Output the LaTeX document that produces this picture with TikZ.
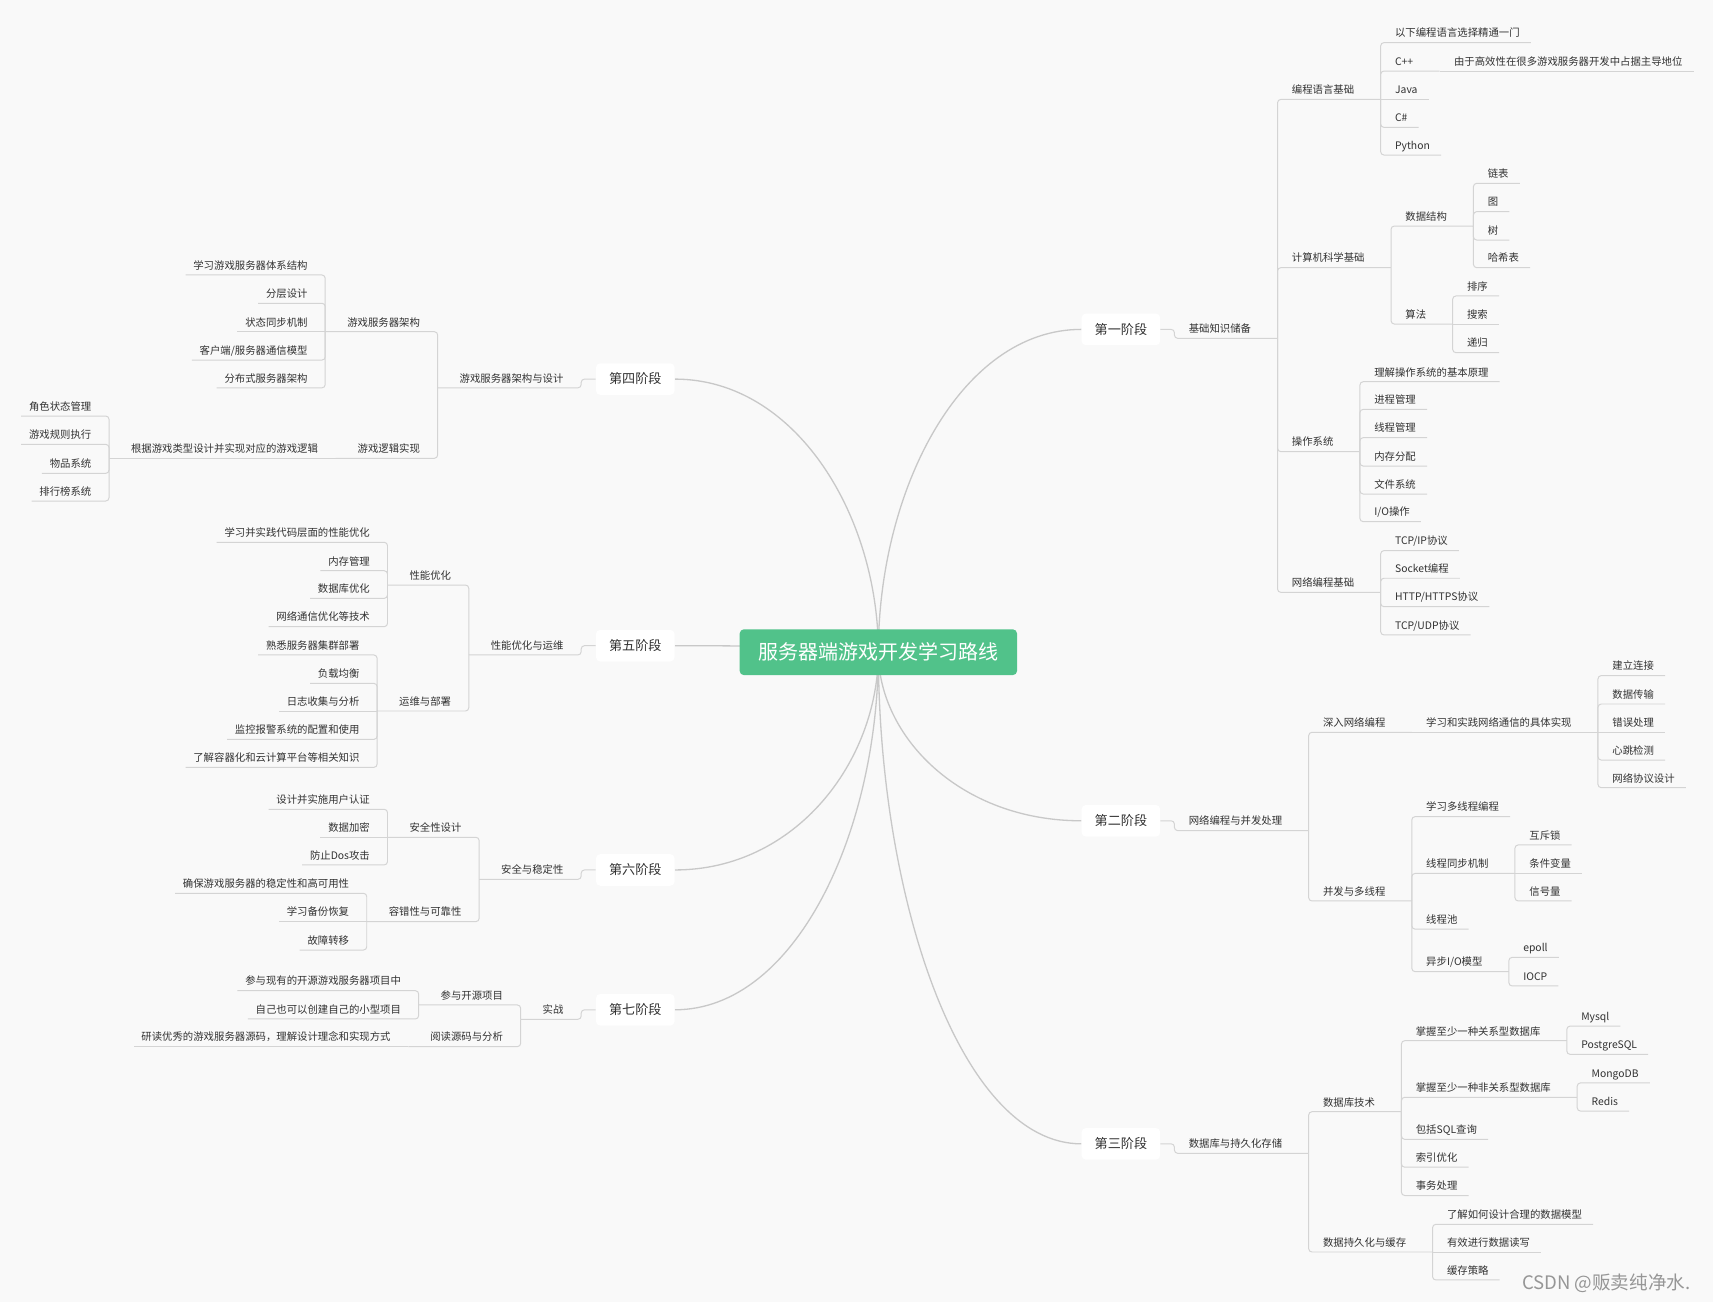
\documentclass[tikz,border=0pt]{standalone}
\usepackage{fontspec}
\newfontfamily\cjk{Noto Sans CJK SC}
\usetikzlibrary{backgrounds}
\definecolor{ink}{RGB}{50,50,50}
\definecolor{paper}{RGB}{249,249,249}
\definecolor{rootgreen}{RGB}{81,194,138}
\definecolor{limbgray}{RGB}{200,200,200}
\definecolor{twiggray}{RGB}{212,212,212}
\definecolor{stampgray}{RGB}{150,150,150}

\begin{document}
\begin{tikzpicture}[
  x=1pt, y=-1pt,
  root/.style={font=\cjk\fontsize{18.3}{20}\selectfont, text=white, fill=rootgreen, rounded corners=4pt, minimum width=254pt, minimum height=42pt, inner sep=0pt, text height=14pt, text depth=0pt},
  stage/.style={font=\cjk\fontsize{12}{14}\selectfont, text=ink, fill=white, rounded corners=4pt, minimum width=72pt, minimum height=29pt, inner sep=0pt, text height=9pt, text depth=0.2pt},
  topic/.style={font=\cjk\fontsize{9.5}{11}\selectfont, text=ink, inner sep=0pt, text height=8pt, text depth=5pt},
  rnode/.style={topic, anchor=south west, execute at begin node={\kern13pt}, execute at end node={\kern24pt}},
  rleaf/.style={topic, anchor=south west, execute at begin node={\kern13pt}, execute at end node={\kern10pt}},
  lnode/.style={topic, anchor=south east, execute at begin node={\kern20pt}, execute at end node={\kern16pt}},
  lleaf/.style={topic, anchor=south east, execute at begin node={\kern7pt}, execute at end node={\kern16pt}},
  stamp/.style={font=\cjk\fontsize{17}{19}\selectfont, text=stampgray, anchor=west, inner sep=0pt},
  limb/.style={draw=limbgray, line width=1.2pt},
  twig/.style={draw=twiggray, line width=0.9pt, rounded corners=3pt}
]
\useasboundingbox (0,0) rectangle (1568,1192);

\node[root] (root) at (804,597) {服务器端游戏开发学习路线};

% stage 1
\node[stage] (st1) at (1026,301.5) {第一阶段};
\node[rnode] (base) at (1075,309.7) {基础知识储备};
\node[rnode] (lang) at (base.south east |- 0,91) {编程语言基础};
\node[rleaf] (pick) at (lang.south east |- 0,39) {以下编程语言选择精通一门};
\node[rnode] (cpp) at (lang.south east |- 0,65) {C++};
\node[rleaf] (cppnote) at (cpp.south east) {由于高效性在很多游戏服务器开发中占据主导地位};
\node[rleaf] (java) at (lang.south east |- 0,91) {Java};
\node[rleaf] (csharp) at (lang.south east |- 0,116.6) {C\#};
\node[rleaf] (python) at (lang.south east |- 0,141.9) {Python};
\node[rnode] (csbase) at (base.south east |- 0,245) {计算机科学基础};
\node[rnode] (ds) at (csbase.south east |- 0,206.9) {数据结构};
\node[rleaf] (list) at (ds.south east |- 0,167.8) {链表};
\node[rleaf] (graph) at (ds.south east |- 0,193.7) {图};
\node[rleaf] (tree) at (ds.south east |- 0,219.7) {树};
\node[rleaf] (hash) at (ds.south east |- 0,245) {哈希表};
\node[rnode] (algo) at (csbase.south east |- 0,296.6) {算法};
\node[rleaf] (sort) at (algo.south east |- 0,270.9) {排序};
\node[rleaf] (search) at (algo.south east) {搜索};
\node[rleaf] (recur) at (algo.south east |- 0,322.8) {递归};
\node[rnode] (os) at (base.south east |- 0,413.4) {操作系统};
\node[rleaf] (osbase) at (os.south east |- 0,349.4) {理解操作系统的基本原理};
\node[rleaf] (proc) at (os.south east |- 0,374.7) {进程管理};
\node[rleaf] (thread) at (os.south east |- 0,400.6) {线程管理};
\node[rleaf] (mem) at (os.south east |- 0,426.6) {内存分配};
\node[rleaf] (fsys) at (os.south east |- 0,452.2) {文件系统};
\node[rleaf] (io) at (os.south east |- 0,477.5) {I/O操作};
\node[rnode] (net) at (base.south east |- 0,542.2) {网络编程基础};
\node[rleaf] (tcpip) at (net.south east |- 0,504) {TCP/IP协议};
\node[rleaf] (socket) at (net.south east |- 0,529.3) {Socket编程};
\node[rleaf] (http) at (net.south east |- 0,555.3) {HTTP/HTTPS协议};
\node[rleaf] (tcpudp) at (net.south east |- 0,581.2) {TCP/UDP协议};

\draw[twig] (st1.east) -- (base.south west |- st1.east) -- (base.south west) -- (base.south east);
\foreach \c in {lang,csbase,os,net} \draw[twig] (base.south east) -- (\c.south west) -- (\c.south east);
\foreach \c in {pick,cpp,csharp,python} \draw[twig] (lang.south east) -- (\c.south west) -- (\c.south east);
\foreach \c in {ds,algo} \draw[twig] (csbase.south east) -- (\c.south west) -- (\c.south east);
\foreach \c in {list,graph,tree,hash} \draw[twig] (ds.south east) -- (\c.south west) -- (\c.south east);
\foreach \c in {sort,recur} \draw[twig] (algo.south east) -- (\c.south west) -- (\c.south east);
\foreach \c in {osbase,proc,thread,mem,fsys,io} \draw[twig] (os.south east) -- (\c.south west) -- (\c.south east);
\foreach \c in {tcpip,socket,http,tcpudp} \draw[twig] (net.south east) -- (\c.south west) -- (\c.south east);
\foreach \c in {java,cppnote,search} \draw[twig] (\c.south west) -- (\c.south east);

% stage 2
\node[stage] (st2) at (1026,751.3) {第二阶段};
\node[rnode] (netcon) at (1075,760.3) {网络编程与并发处理};
\node[rnode] (deepnet) at (netcon.south east |- 0,670.3) {深入网络编程};
\node[rnode] (netimpl) at (deepnet.south east) {学习和实践网络通信的具体实现};
\node[rleaf] (conn) at (netimpl.south east |- 0,618.4) {建立连接};
\node[rleaf] (trans) at (netimpl.south east |- 0,644.4) {数据传输};
\node[rleaf] (err) at (netimpl.south east) {错误处理};
\node[rleaf] (beat) at (netimpl.south east |- 0,695.7) {心跳检测};
\node[rleaf] (proto) at (netimpl.south east |- 0,721) {网络协议设计};
\node[rnode] (conc) at (netcon.south east |- 0,824.7) {并发与多线程};
\node[rleaf] (mtlearn) at (conc.south east |- 0,747.5) {学习多线程编程};
\node[rnode] (sync) at (conc.south east |- 0,799.5) {线程同步机制};
\node[rleaf] (mutex) at (sync.south east |- 0,773.4) {互斥锁};
\node[rleaf] (condvar) at (sync.south east) {条件变量};
\node[rleaf] (sem) at (sync.south east |- 0,824.7) {信号量};
\node[rleaf] (pool) at (conc.south east |- 0,850.5) {线程池};
\node[rnode] (aio) at (conc.south east |- 0,889.4) {异步I/O模型};
\node[rleaf] (epoll) at (aio.south east |- 0,876.3) {epoll};
\node[rleaf] (iocp) at (aio.south east |- 0,902.5) {IOCP};

\draw[twig] (st2.east) -- (netcon.south west |- st2.east) -- (netcon.south west) -- (netcon.south east);
\foreach \c in {deepnet,conc} \draw[twig] (netcon.south east) -- (\c.south west) -- (\c.south east);
\foreach \c in {conn,trans,beat,proto} \draw[twig] (netimpl.south east) -- (\c.south west) -- (\c.south east);
\foreach \c in {mtlearn,sync,pool,aio} \draw[twig] (conc.south east) -- (\c.south west) -- (\c.south east);
\foreach \c in {mutex,sem} \draw[twig] (sync.south east) -- (\c.south west) -- (\c.south east);
\foreach \c in {epoll,iocp} \draw[twig] (aio.south east) -- (\c.south west) -- (\c.south east);
\foreach \c in {netimpl,err,condvar} \draw[twig] (\c.south west) -- (\c.south east);

% stage 3
\node[stage] (st3) at (1026,1047) {第三阶段};
\node[rnode] (dbstore) at (1075,1055.7) {数据库与持久化存储};
\node[rnode] (dbtech) at (dbstore.south east |- 0,1017.6) {数据库技术};
\node[rnode] (rdb) at (dbtech.south east |- 0,952.6) {掌握至少一种关系型数据库};
\node[rleaf] (mysql) at (rdb.south east |- 0,939.2) {Mysql};
\node[rleaf] (pg) at (rdb.south east |- 0,965.1) {PostgreSQL};
\node[rnode] (nosql) at (dbtech.south east |- 0,1004.4) {掌握至少一种非关系型数据库};
\node[rleaf] (mongo) at (nosql.south east |- 0,991.2) {MongoDB};
\node[rleaf] (redis) at (nosql.south east |- 0,1017) {Redis};
\node[rleaf] (sql) at (dbtech.south east |- 0,1042.9) {包括SQL查询};
\node[rleaf] (idx) at (dbtech.south east |- 0,1068.4) {索引优化};
\node[rleaf] (txn) at (dbtech.south east |- 0,1094.3) {事务处理};
\node[rnode] (persist) at (dbstore.south east |- 0,1146) {数据持久化与缓存};
\node[rleaf] (model) at (persist.south east |- 0,1120.7) {了解如何设计合理的数据模型};
\node[rleaf] (rw) at (persist.south east) {有效进行数据读写};
\node[rleaf] (cache) at (persist.south east |- 0,1171.6) {缓存策略};

\draw[twig] (st3.east) -- (dbstore.south west |- st3.east) -- (dbstore.south west) -- (dbstore.south east);
\foreach \c in {dbtech,persist} \draw[twig] (dbstore.south east) -- (\c.south west) -- (\c.south east);
\foreach \c in {rdb,nosql,sql,idx,txn} \draw[twig] (dbtech.south east) -- (\c.south west) -- (\c.south east);
\foreach \c in {mysql,pg} \draw[twig] (rdb.south east) -- (\c.south west) -- (\c.south east);
\foreach \c in {mongo,redis} \draw[twig] (nosql.south east) -- (\c.south west) -- (\c.south east);
\foreach \c in {model,cache} \draw[twig] (persist.south east) -- (\c.south west) -- (\c.south east);
\draw[twig] (rw.south west) -- (rw.south east);

% stage 4
\node[stage] (st4) at (581.5,347) {第四阶段};
\node[lnode] (design) at (532,355) {游戏服务器架构与设计};
\node[lnode] (arch) at (design.south west |- 0,303.6) {游戏服务器架构};
\node[lleaf] (archlearn) at (arch.south west |- 0,251.7) {学习游戏服务器体系结构};
\node[lleaf] (layer) at (arch.south west |- 0,277.6) {分层设计};
\node[lleaf] (statesync) at (arch.south west) {状态同步机制};
\node[lleaf] (csmodel) at (arch.south west |- 0,329.6) {客户端/服务器通信模型};
\node[lleaf] (dist) at (arch.south west |- 0,355) {分布式服务器架构};
\node[lnode] (logic) at (design.south west |- 0,419.5) {游戏逻辑实现};
\node[lnode] (logicimpl) at (logic.south west) {根据游戏类型设计并实现对应的游戏逻辑};
\node[lleaf] (role) at (logicimpl.south west |- 0,380.8) {角色状态管理};
\node[lleaf] (rule) at (logicimpl.south west |- 0,406.7) {游戏规则执行};
\node[lleaf] (item) at (logicimpl.south west |- 0,433.3) {物品系统};
\node[lleaf] (rank) at (logicimpl.south west |- 0,458.6) {排行榜系统};

\draw[twig] (st4.west) -- (design.south east |- st4.west) -- (design.south east) -- (design.south west);
\foreach \c in {arch,logic} \draw[twig] (design.south west) -- (\c.south east) -- (\c.south west);
\foreach \c in {archlearn,layer,csmodel,dist} \draw[twig] (arch.south west) -- (\c.south east) -- (\c.south west);
\foreach \c in {role,rule,item,rank} \draw[twig] (logicimpl.south west) -- (\c.south east) -- (\c.south west);
\foreach \c in {statesync,logicimpl} \draw[twig] (\c.south east) -- (\c.south west);

% stage 5
\node[stage] (st5) at (581.5,591) {第五阶段};
\node[lnode] (perfops) at (532,599.5) {性能优化与运维};
\node[lnode] (perf) at (perfops.south west |- 0,535.5) {性能优化};
\node[lleaf] (codeopt) at (perf.south west |- 0,496.4) {学习并实践代码层面的性能优化};
\node[lleaf] (memmgr) at (perf.south west |- 0,522.4) {内存管理};
\node[lleaf] (dbopt) at (perf.south west |- 0,547.7) {数据库优化};
\node[lleaf] (netopt) at (perf.south west |- 0,573.6) {网络通信优化等技术};
\node[lnode] (ops) at (perfops.south west |- 0,650.8) {运维与部署};
\node[lleaf] (cluster) at (ops.south west |- 0,599.5) {熟悉服务器集群部署};
\node[lleaf] (lb) at (ops.south west |- 0,625.5) {负载均衡};
\node[lleaf] (logs) at (ops.south west) {日志收集与分析};
\node[lleaf] (monitor) at (ops.south west |- 0,676.8) {监控报警系统的配置和使用};
\node[lleaf] (cloud) at (ops.south west |- 0,702.4) {了解容器化和云计算平台等相关知识};

\draw[twig] (st5.west) -- (perfops.south east |- st5.west) -- (perfops.south east) -- (perfops.south west);
\foreach \c in {perf,ops} \draw[twig] (perfops.south west) -- (\c.south east) -- (\c.south west);
\foreach \c in {codeopt,memmgr,dbopt,netopt} \draw[twig] (perf.south west) -- (\c.south east) -- (\c.south west);
\foreach \c in {cluster,lb,monitor,cloud} \draw[twig] (ops.south west) -- (\c.south east) -- (\c.south west);
\draw[twig] (logs.south east) -- (logs.south west);

% stage 6
\node[stage] (st6) at (581.5,796.3) {第六阶段};
\node[lnode] (secstab) at (532,804.9) {安全与稳定性};
\node[lnode] (sec) at (secstab.south west |- 0,766.4) {安全性设计};
\node[lleaf] (auth) at (sec.south west |- 0,740.8) {设计并实施用户认证};
\node[lleaf] (crypt) at (sec.south west) {数据加密};
\node[lleaf] (dos) at (sec.south west |- 0,791.7) {防止Dos攻击};
\node[lnode] (fault) at (secstab.south west |- 0,843.6) {容错性与可靠性};
\node[lleaf] (ha) at (fault.south west |- 0,817.7) {确保游戏服务器的稳定性和高可用性};
\node[lleaf] (backup) at (fault.south west) {学习备份恢复};
\node[lleaf] (failover) at (fault.south west |- 0,869.6) {故障转移};

\draw[twig] (st6.west) -- (secstab.south east |- st6.west) -- (secstab.south east) -- (secstab.south west);
\foreach \c in {sec,fault} \draw[twig] (secstab.south west) -- (\c.south east) -- (\c.south west);
\foreach \c in {auth,dos} \draw[twig] (sec.south west) -- (\c.south east) -- (\c.south west);
\foreach \c in {ha,failover} \draw[twig] (fault.south west) -- (\c.south east) -- (\c.south west);
\foreach \c in {crypt,backup} \draw[twig] (\c.south east) -- (\c.south west);

% stage 7
\node[stage] (st7) at (581.5,924.3) {第七阶段};
\node[lnode] (practice) at (532,933) {实战};
\node[lnode] (oss) at (practice.south west |- 0,919.9) {参与开源项目};
\node[lleaf] (ossjoin) at (oss.south west |- 0,906.8) {参与现有的开源游戏服务器项目中};
\node[lleaf] (ossown) at (oss.south west |- 0,932.7) {自己也可以创建自己的小型项目};
\node[lnode] (reading) at (practice.south west |- 0,958) {阅读源码与分析};
\node[lleaf] (readsrc) at (reading.south west) {研读优秀的游戏服务器源码，理解设计理念和实现方式};

\draw[twig] (st7.west) -- (practice.south east |- st7.west) -- (practice.south east) -- (practice.south west);
\foreach \c in {oss,reading} \draw[twig] (practice.south west) -- (\c.south east) -- (\c.south west);
\foreach \c in {ossjoin,ossown} \draw[twig] (oss.south west) -- (\c.south east) -- (\c.south west);
\draw[twig] (readsrc.south east) -- (readsrc.south west);

\node[stamp] (wm) at (1393,1174.6) {CSDN @贩卖纯净水.};

% curved branches from the root, kept under the boxes
\begin{scope}[on background layer]
  \fill[paper] (0,0) rectangle (1568,1192);
  \draw[limb] (root.center) .. controls (804,449.3) and (879,301.5) .. (st1.west);
  \draw[limb] (root.center) .. controls (804,674.2) and (879,751.3) .. (st2.west);
  \draw[limb] (root.center) .. controls (804,822) and (879,1047) .. (st3.west);
  \draw[limb] (root.center) .. controls (804,472) and (728.5,347) .. (st4.east);
  \draw[limb] (root.center) .. controls (804,594) and (728.5,591) .. (st5.east);
  \draw[limb] (root.center) .. controls (804,696.7) and (728.5,796.3) .. (st6.east);
  \draw[limb] (root.center) .. controls (804,760.7) and (728.5,924.3) .. (st7.east);
\end{scope}
\end{tikzpicture}
\end{document}
